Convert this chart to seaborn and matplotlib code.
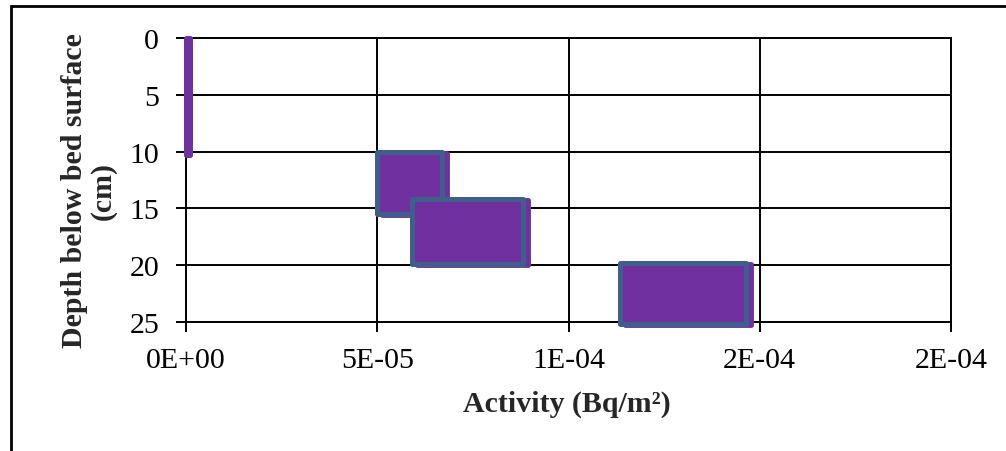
import matplotlib
matplotlib.use("Agg")
import matplotlib.pyplot as plt
import matplotlib.transforms as mtransforms
from matplotlib.patches import Rectangle
from matplotlib.ticker import FixedLocator, FixedFormatter
import seaborn as sns

# ---- data ----
depth_top = [0.0, 10.0, 14.2, 19.85]
depth_bottom = [10.3, 15.45, 19.9, 25.2]
activity_low = [0.0, 5.0e-05, 5.9e-05, 1.135e-04]
activity_high = [1.0e-06, 6.7e-05, 8.8e-05, 1.465e-04]
x_ticks = [0.0, 5e-05, 1e-04, 1.5e-04, 2e-04]
x_tick_labels = ["0E+00", "5E-05", "1E-04", "2E-04", "2E-04"]
y_ticks = [0, 5, 10, 15, 20, 25]

sns.set_style("white")
plt.rcParams["font.family"] = ["Liberation Serif", "DejaVu Serif"]

W, H, DPI = 1006, 452, 100
fig = plt.figure(figsize=(W / DPI, H / DPI), dpi=DPI)
ax = fig.add_axes([186 / W, 1 - 323 / H, (951 - 186) / W, (323 - 39) / H])

purple = "#7030A0"
blue = "#3F5E8C"
edges = [purple, blue, blue, blue]

centers = [(t + b) / 2 for t, b in zip(depth_top, depth_bottom)]
heights = [b - t for t, b in zip(depth_top, depth_bottom)]
widths = [h - l for l, h in zip(activity_low, activity_high)]

# shadow layer
shadow = ax.barh(centers, widths, left=activity_low, height=heights,
                 color=purple, edgecolor=purple, linewidth=3.5, zorder=3, clip_on=False)
off = mtransforms.ScaledTranslation(5 / DPI, -1 / DPI, fig.dpi_scale_trans)
for i, p in enumerate(shadow.patches):
    p.set_joinstyle("round")
    if i > 0:
        p.set_transform(ax.transData + off)
    else:
        p.set_visible(False)

main = ax.barh(centers, widths, left=activity_low, height=heights,
               color=purple, edgecolor=edges, linewidth=3.6, zorder=4, clip_on=False)
for p in main.patches:
    p.set_joinstyle("round")

ax.set_xlim(0, 2e-04)
ax.set_ylim(25, 0)
ax.xaxis.set_major_locator(FixedLocator(x_ticks))
ax.xaxis.set_major_formatter(FixedFormatter(x_tick_labels))
ax.set_yticks(y_ticks)
ax.grid(True, color="black", linewidth=1.4, zorder=1)
ax.set_axisbelow(True)
for s in ax.spines.values():
    s.set_color("black")
    s.set_linewidth(1.4)
ax.tick_params(axis="both", direction="out", length=7.3, width=1.4, color="black",
               labelsize=21.5, labelcolor="black", left=True, bottom=True)
ax.tick_params(axis="y", pad=12)
ax.tick_params(axis="x", pad=11)

fig.text(567 / W, 1 - 404 / H, "Activity (Bq/m²)", ha="center", va="center",
         fontsize=21.5, fontweight="bold")
fig.text(89 / W, 1 - 191 / H, "Depth below bed surface\n(cm)", ha="center", va="center",
         rotation=90, fontsize=21.5, fontweight="bold", linespacing=1.05, multialignment="center")

fig.patches.append(Rectangle((11 / W, -0.1), 1.2, 1 - 7 / H + 0.1, transform=fig.transFigure,
                             fill=False, edgecolor="black", linewidth=2))

fig.savefig("out.png", dpi=DPI)
